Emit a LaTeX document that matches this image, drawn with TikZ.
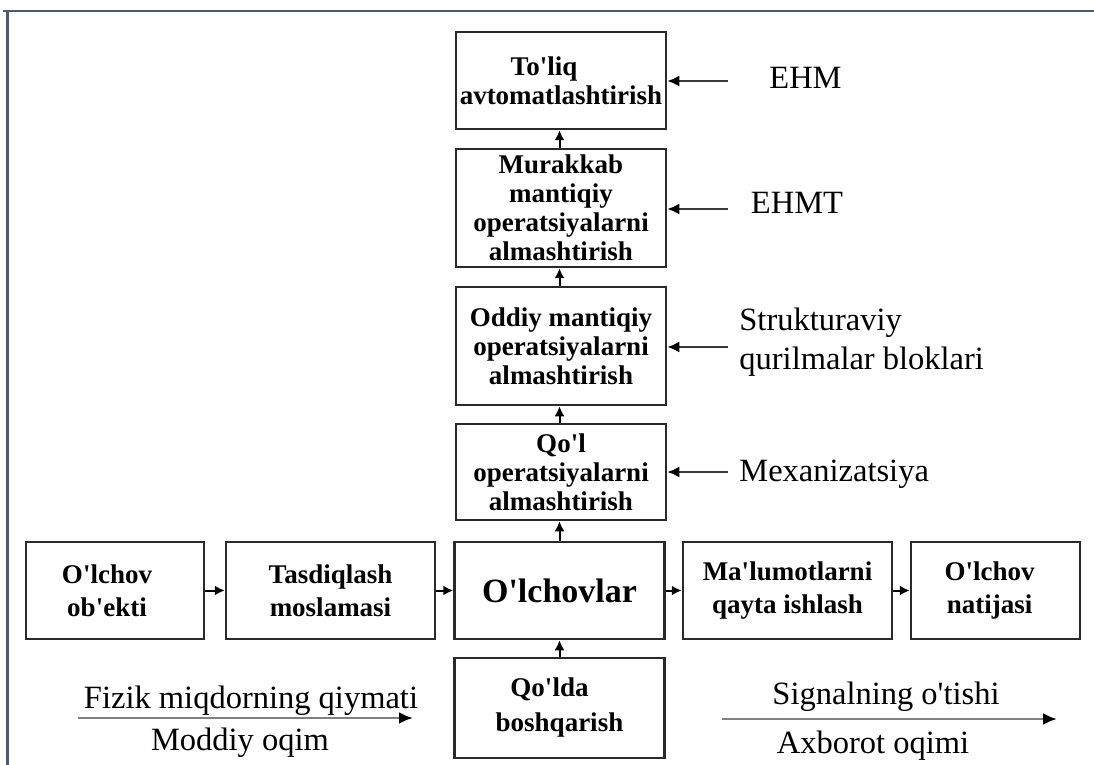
\documentclass[tikz,border=0pt]{standalone}
\usepackage{fontspec}
\setmainfont{Liberation Serif}
\usetikzlibrary{arrows.meta}
\newcommand{\ap}{\textquotesingle}
\definecolor{framecol}{HTML}{4B5A75}
\definecolor{boxcol}{HTML}{2A2A2A}
\definecolor{linecol}{HTML}{3A3A3A}
\tikzset{
  boxst/.style={draw=boxcol, line width=1.25pt, rectangle, inner sep=0pt,
    align=center, font=\bfseries\fontsize{13.5}{14.5}\selectfont},
  rowst/.style={boxst, font=\bfseries\fontsize{13.5}{16.5}\selectfont},
  smallarr/.style={draw=black, line width=1pt, -{Latex[length=5pt,width=5pt]}},
  sidearr/.style={draw=linecol, line width=1.2pt, -{Latex[length=6pt,width=5.5pt,color=black]}},
  flowarr/.style={draw=gray, line width=1.4pt, -{Latex[length=7pt,width=6pt,color=black]}},
  lbl/.style={inner sep=0pt, font=\fontsize{16.25}{19.5}\selectfont, align=left},
  framest/.style={draw=framecol, line width=1.1pt}
}
\begin{document}
\begin{tikzpicture}[x=0.5pt,y=-0.5pt]
\useasboundingbox (0,0) rectangle (1094,765);
% frame
\draw[framest] (3,11) -- (1094,11);
\draw[framest] (7.5,11) -- (7.5,765);
% column boxes
\node[boxst, minimum width=105pt, minimum height=48.5pt] (b1) at (561,80.5) {To\ap liq\hspace*{17pt}\\avtomatlashtirish};
\node[boxst, minimum width=105pt, minimum height=59pt] (b2) at (561,208) {Murakkab\\mantiqiy\\operatsiyalarni\\almashtirish};
\node[boxst, minimum width=105pt, minimum height=59pt] (b3) at (561,346) {Oddiy mantiqiy\\operatsiyalarni\\almashtirish};
\node[boxst, minimum width=105pt, minimum height=48pt] (b4) at (561,472) {Qo\ap l\\operatsiyalarni\\almashtirish};
\node[boxst, minimum width=105pt, minimum height=48.5pt, font=\bfseries\fontsize{17}{20}\selectfont] (m) at (559.5,590.5) {O\ap lchovlar};
\node[rowst, minimum width=105pt, minimum height=50pt, font=\bfseries\fontsize{13.5}{17.5}\selectfont] (q) at (559.5,708) {Qo\ap lda\hspace*{10pt}\\boshqarish};
% row boxes
\node[rowst, minimum width=89pt, minimum height=48.5pt] (r1) at (115,590.5) {O\ap lchov\hspace*{8pt}\\ob\ap ekti\hspace*{8pt}};
\node[rowst, minimum width=104.5pt, minimum height=48.5pt] (r2) at (330.5,590.5) {Tasdiqlash\\moslamasi};
\node[rowst, minimum width=104.5pt, minimum height=48.5pt] (r4) at (787.5,590.5) {Ma\ap lumotlarni\\qayta ishlash};
\node[rowst, minimum width=84.5pt, minimum height=48.5pt] (r5) at (995.5,590.5) {O\ap lchov\hspace*{6pt}\\natijasi\hspace*{6pt}};
% small arrows
\draw[smallarr] (r1.east) -- (r2.west);
\draw[smallarr] (r2.east) -- (m.west);
\draw[smallarr] (m.east) -- (r4.west);
\draw[smallarr] (r4.east) -- (r5.west);
\draw[smallarr] (q.north) -- (m.south);
\draw[smallarr] (m.north) -- (m.north |- b4.south);
\draw[smallarr] (m.north |- b4.north) -- (m.north |- b3.south);
\draw[smallarr] (m.north |- b3.north) -- (m.north |- b2.south);
\draw[smallarr] (m.north |- b2.north) -- (m.north |- b1.south);
% side arrows
\coordinate (s1) at (728,81);
\coordinate (s2) at (728,209);
\coordinate (s3) at (728,347);
\coordinate (s4) at (728,472);
\draw[sidearr] (s1) -- (s1 -| b1.east);
\draw[sidearr] (s2) -- (s2 -| b2.east);
\draw[sidearr] (s3) -- (s3 -| b3.east);
\draw[sidearr] (s4) -- (s4 -| b4.east);
% side labels
\node[lbl] (l1) at (805.5,78) {EHM};
\node[lbl] (l2) at (797,203) {EHMT};
\node[lbl, anchor=west] (l3) at (739,342.5) {Strukturaviy\\qurilmalar bloklari};
\node[lbl, anchor=base west] (l4) at (739,481) {Mexanizatsiya};
% flow legends
\coordinate (fa) at (78,718);
\coordinate (fb) at (413,718);
\draw[flowarr] (fa) -- (fb);
\node[lbl, anchor=base] (f1) at (251,708) {Fizik miqdorning qiymati};
\node[lbl, anchor=base] (f2) at (240,750) {Moddiy oqim};
\coordinate (ga) at (722,719);
\coordinate (gb) at (1057,719);
\draw[flowarr] (ga) -- (gb);
\node[lbl, anchor=base] (g1) at (886,704) {Signalning o\ap tishi};
\node[lbl, anchor=base] (g2) at (873,753) {Axborot oqimi};
\end{tikzpicture}
\end{document}
